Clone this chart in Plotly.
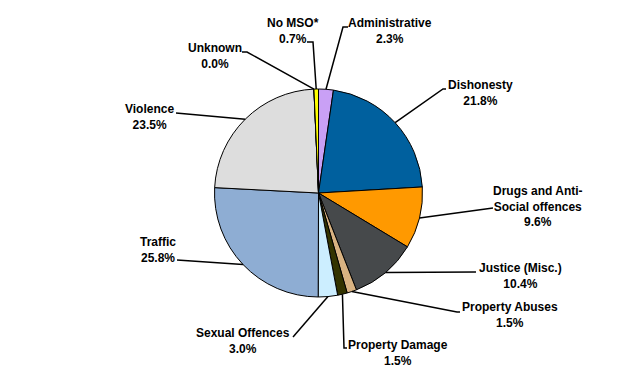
import math
import plotly.graph_objects as go

categories = ["Administrative", "Dishonesty", "Drugs and Anti-<br>Social offences",
              "Justice (Misc.)", "Property Abuses", "Property Damage",
              "Sexual Offences", "Traffic", "Violence", "Unknown", "No MSO*"]
values = [2.3, 21.8, 9.6, 10.4, 1.5, 1.5, 3.0, 25.8, 23.5, 0.0, 0.7]
pct_labels = ["2.3%", "21.8%", "9.6%", "10.4%", "1.5%", "1.5%", "3.0%",
              "25.8%", "23.5%", "0.0%", "0.7%"]
colors = ["#C9A0F5", "#00609E", "#FF9900", "#46494B", "#D9B382", "#333300",
          "#CCEEFF", "#8EADD3", "#DDDDDD", "#FFFFFF", "#FFFF00"]

W, H = 639, 386
CX, CY, R = 318.5, 193.0, 104.0

# label layout (pixel positions): text centre, leader path points after anchor
text_pos = [(390, 31), (480, 93.5), (538, 206.5), (520, 275.5), (510, 315),
            (398, 352.5), (243, 340.5), (158, 249.5), (149, 117), (215, 55.5),
            (293, 30.5)]
leader_pts = [[(343, 27), (348, 27)], [(443, 89), (446, 89)], [(493, 208)],
              [(476, 272)], [(457, 312), (460, 312)], [(344, 348), (347, 348)],
              [(293, 337)], [(177, 260)], [(176, 113)], [(247, 52), (242, 52)],
              [(313, 42), (307, 42)]]

fig = go.Figure(go.Pie(
    labels=categories, values=values, sort=False, direction="clockwise",
    rotation=0, textinfo="none", hoverinfo="label+percent",
    marker=dict(colors=colors, line=dict(color="#000000", width=1)),
    domain=dict(x=[(CX - R) / W, (CX + R) / W],
                y=[1 - (CY + R) / H, 1 - (CY - R) / H]),
    showlegend=False,
))

total = sum(values)
cum = 0.0
shapes = []
annotations = []
for i, v in enumerate(values):
    mid = (cum + v / 2) / total * 2 * math.pi
    cum += v
    ax = CX + R * math.sin(mid)
    ay = CY - R * math.cos(mid)
    pts = [(ax, ay)] + leader_pts[i]
    path = "M {} {}".format(pts[0][0] / W, 1 - pts[0][1] / H)
    for (px, py) in pts[1:]:
        path += " L {} {}".format(px / W, 1 - py / H)
    shapes.append(dict(type="path", path=path, xref="paper", yref="paper",
                       line=dict(color="#000000", width=1.5)))
    tx, ty = text_pos[i]
    annotations.append(dict(
        text="<b>{}<br>{}</b>".format(categories[i], pct_labels[i]),
        x=tx / W, y=1 - ty / H, xref="paper", yref="paper",
        xanchor="center", yanchor="middle", showarrow=False, align="center",
        font=dict(family="Liberation Sans, Arial, sans-serif", size=12,
                  color="#000000")))

fig.update_layout(
    width=W, height=H, margin=dict(l=0, r=0, t=0, b=0),
    paper_bgcolor="#FFFFFF", plot_bgcolor="#FFFFFF",
    shapes=shapes, annotations=annotations,
)
fig.write_html("out.html", config={"displayModeBar": False},
               post_script="document.body.style.margin='0';document.body.style.overflow='hidden';")
